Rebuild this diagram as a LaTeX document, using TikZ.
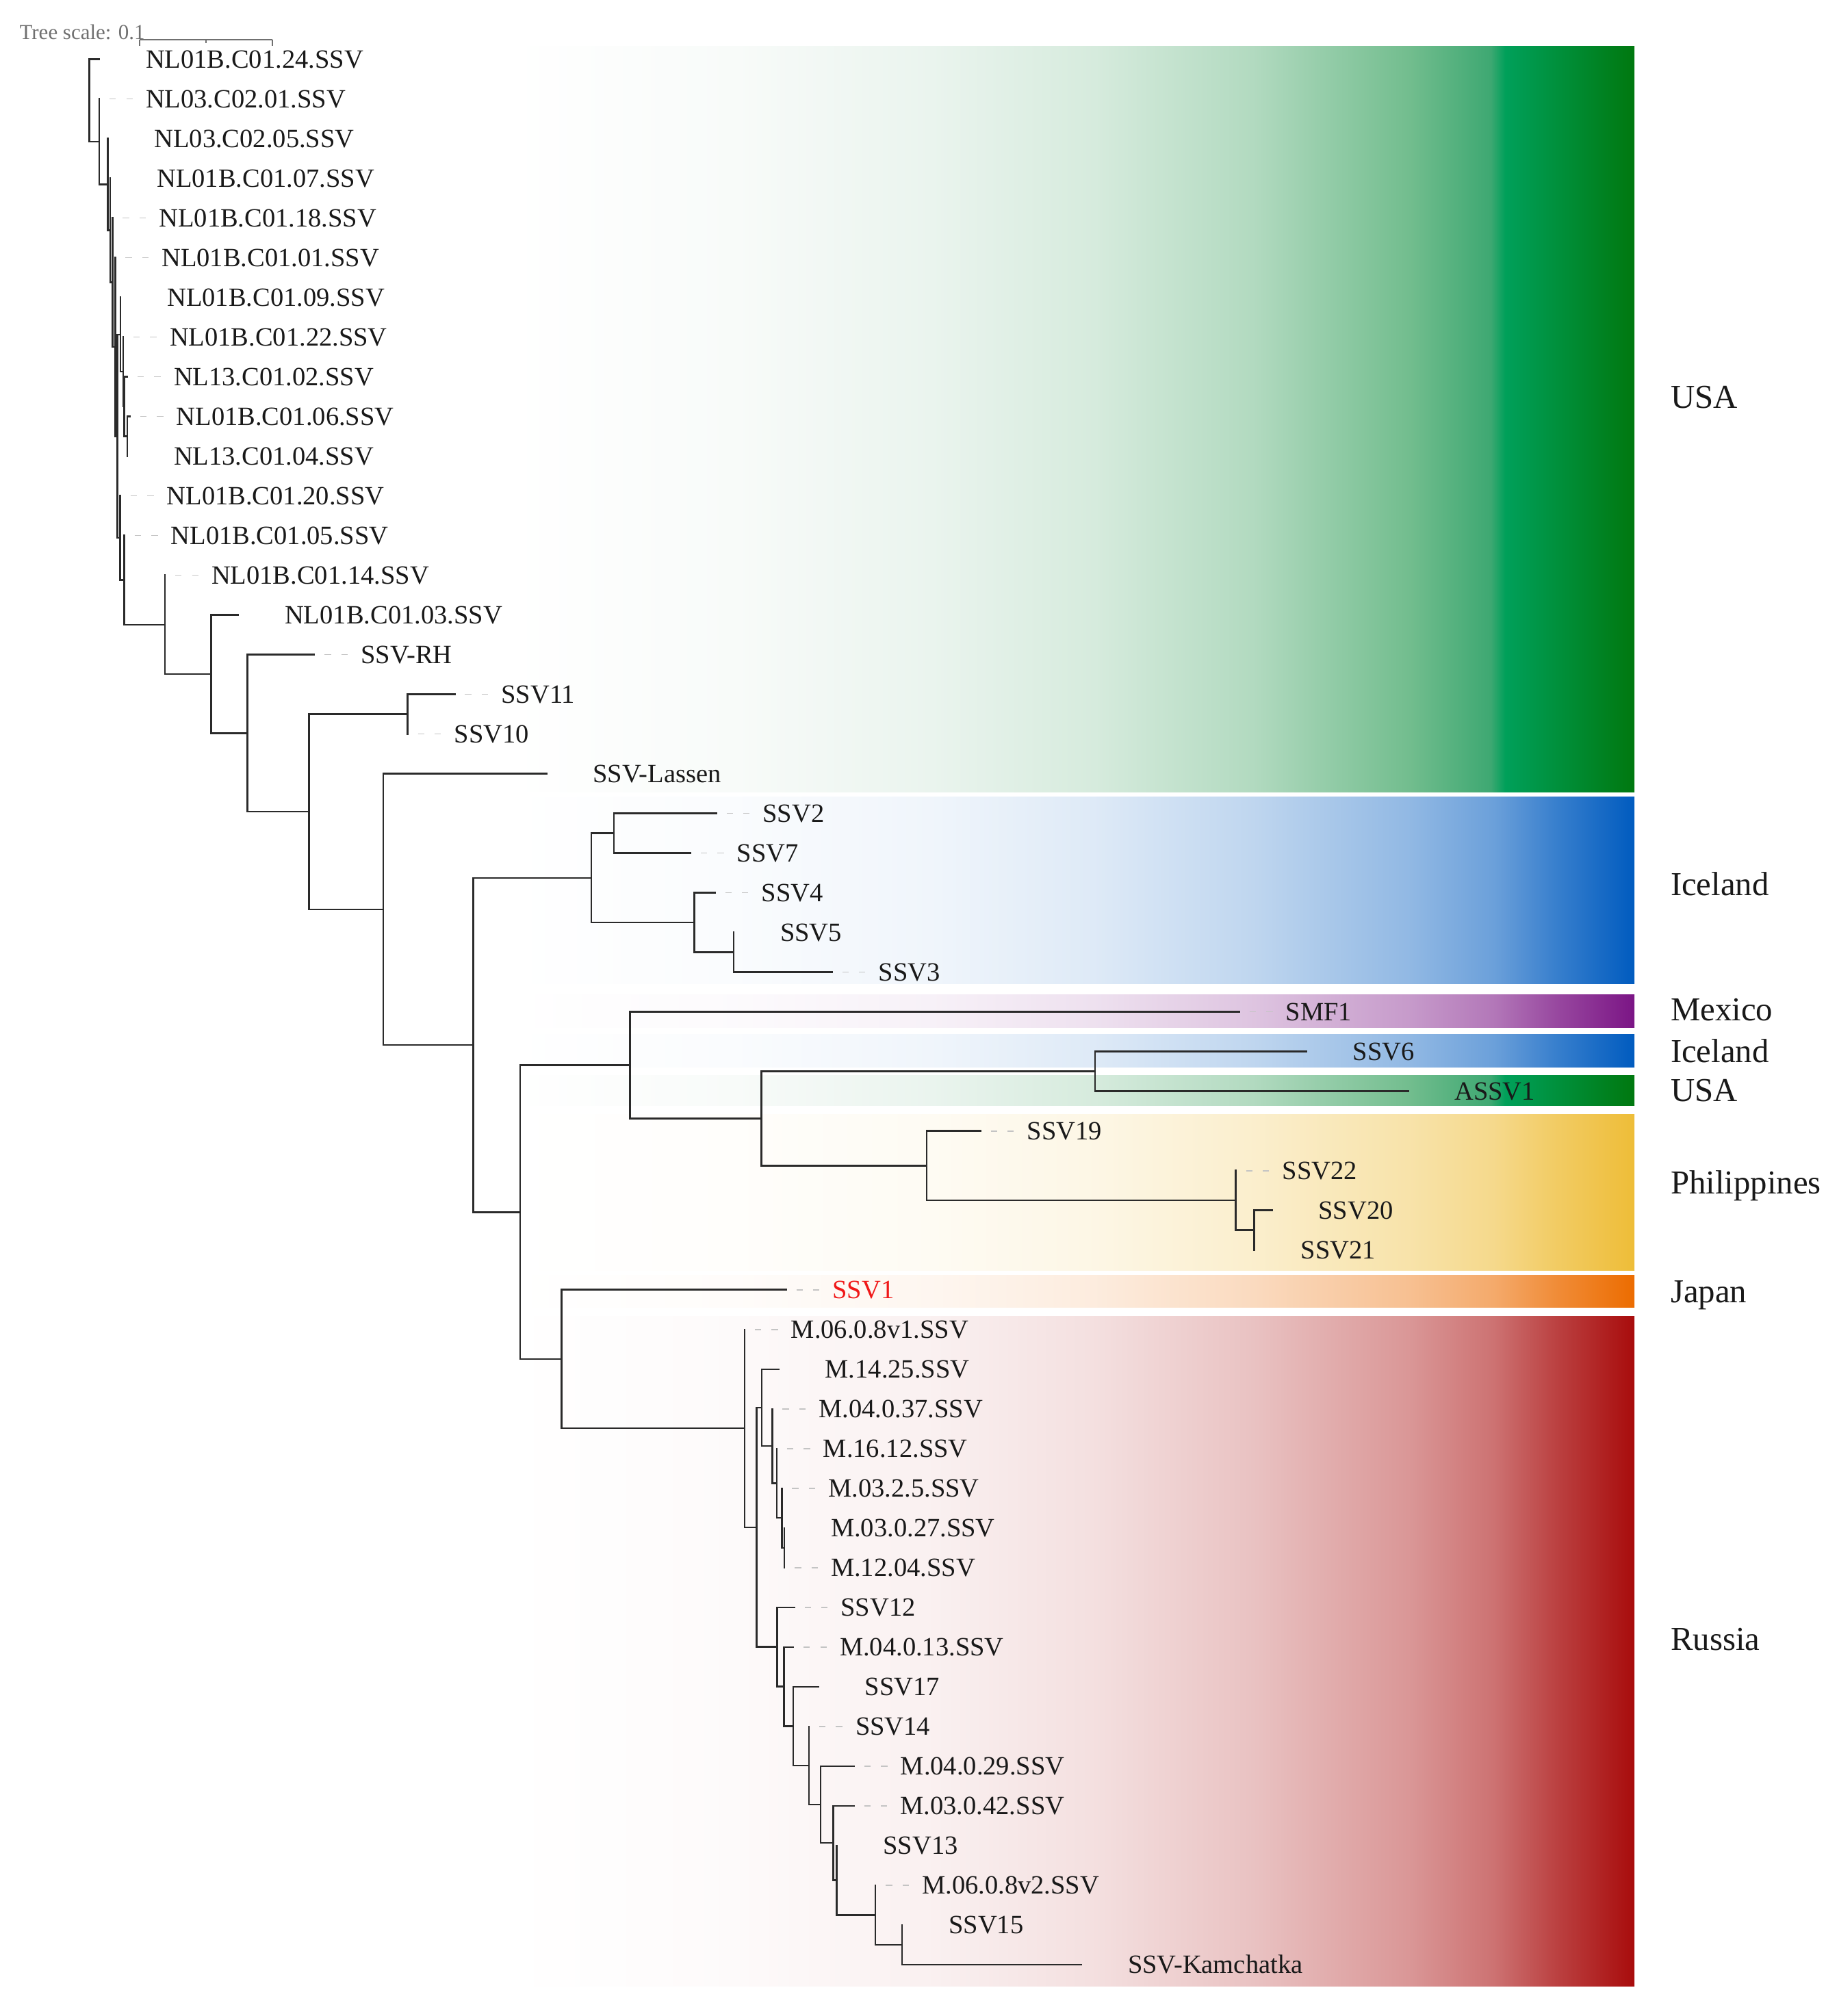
\documentclass[tikz,border=0pt]{standalone}
\usepackage{fontspec}
\setmainfont{Liberation Serif}
\usetikzlibrary{calc}
\definecolor{cBlue}{HTML}{005BBF}
\definecolor{cPurple}{HTML}{7B1585}
\definecolor{cYellow}{HTML}{EEBD38}
\definecolor{cOrange}{HTML}{EC6C00}
\definecolor{cRed}{HTML}{A80C0C}
\definecolor{gS1}{HTML}{F8FBF9}
\definecolor{gS2}{HTML}{EAF4EE}
\definecolor{gS3}{HTML}{D6EBDD}
\definecolor{gS4}{HTML}{B2DAC0}
\definecolor{gS5}{HTML}{72BD8E}
\definecolor{gS6}{HTML}{3EA872}
\definecolor{gS7}{HTML}{00A05A}
\definecolor{gS8}{HTML}{00780F}
\definecolor{brc}{HTML}{2A2A2A}
\definecolor{ldc}{HTML}{C4C4C4}
\definecolor{sclc}{HTML}{707070}
\definecolor{ssvred}{HTML}{F01818}
\pgfdeclarehorizontalshading{shGreen}{100bp}{color(0bp)=(white); color(25bp)=(white); color(35bp)=(gS1); color(43.75bp)=(gS2); color(51bp)=(gS3); color(58bp)=(gS4); color(65bp)=(gS5); color(68.6bp)=(gS6); color(69.25bp)=(gS7); color(75bp)=(gS8); color(100bp)=(gS8)}
\newcommand\mkshade[2]{\pgfdeclarehorizontalshading{#1}{100bp}{color(0bp)=(white); color(25bp)=(white); color(35bp)=(#2!2!white); color(43.75bp)=(#2!6!white); color(51bp)=(#2!13!white); color(58bp)=(#2!25!white); color(65bp)=(#2!43!white); color(68.75bp)=(#2!58!white); color(71.5bp)=(#2!78!white); color(75bp)=(#2); color(100bp)=(#2)}}
\mkshade{shBlue}{cBlue}
\mkshade{shPurple}{cPurple}
\mkshade{shYellow}{cYellow}
\mkshade{shOrange}{cOrange}
\mkshade{shRed}{cRed}
% leaf: #1 index, #2 tip x, #3 text, #4 extra options
\newcommand\leaf[4]{%
  \coordinate (t#1) at (#2,{46+30.875*(#1-1)});
  \node[lab,#4] (l#1) at ($(t#1)+(36,6.8)$) {#3};}
% internal node: #1 name, #2 x, #3 #4 children
\newcommand\inode[4]{%
  \path let \p1=($(#3)!0.5!(#4)$) in (#2pt,\y1) coordinate (#1);
  \draw[br] (#1) |- (#3);
  \draw[br] (#1) |- (#4);}
\begin{document}
\begin{tikzpicture}[x=1pt,y=-1pt,
  br/.style={draw=brc,line width=1.3pt,line cap=rect},
  lead/.style={draw=ldc,line width=0.9pt,dash pattern=on 5pt off 8pt},
  lab/.style={anchor=base west,inner sep=0pt,font=\fontsize{20.5}{24}\selectfont,text=black!90},
  country/.style={anchor=base west,inner sep=0pt,font=\fontsize{26}{30}\selectfont,text=black!90},
  band/.style={draw=none}]
\fill[white] (0,0) rectangle (1430,1568);
\useasboundingbox (0,0) rectangle (1430,1568);
% colour bands
\shade[band,shading=shGreen] (397,36) rectangle (1271,616);
\shade[band,shading=shBlue] (397,620) rectangle (1271,765);
\shade[band,shading=shPurple] (397,773.5) rectangle (1271,799);
\shade[band,shading=shBlue] (397,804.5) rectangle (1271,830);
\shade[band,shading=shGreen] (397,836.5) rectangle (1271,860);
\shade[band,shading=shYellow] (397,867) rectangle (1271,988);
\shade[band,shading=shOrange] (397,992) rectangle (1271,1017);
\shade[band,shading=shRed] (397,1024) rectangle (1271,1545);
% scale
\node[anchor=base west,inner sep=0pt,font=\fontsize{16.5}{20}\selectfont,text=sclc] (ts) at (15,30.5) {Tree scale: 0.1};
\coordinate (sb0) at (108.6,31);
\coordinate (sb1) at (160.2,31);
\coordinate (sb2) at (211.8,31);
\draw[sclc,line width=0.9pt] (sb0) -- (sb2);
\draw[sclc,line width=0.9pt] (sb0) -- ++(0,4.5);
\draw[sclc,line width=0.9pt] (sb1) -- ++(0,2.5);
\draw[sclc,line width=0.9pt] (sb2) -- ++(0,4.5);
% leaves
\leaf{1}{77.2}{NL01B.C01.24.SSV}{}
\leaf{2}{77.2}{NL03.C02.01.SSV}{}
\leaf{3}{83.8}{NL03.C02.05.SSV}{}
\leaf{4}{85.8}{NL01B.C01.07.SSV}{}
\leaf{5}{87.5}{NL01B.C01.18.SSV}{}
\leaf{6}{89.6}{NL01B.C01.01.SSV}{}
\leaf{7}{93.8}{NL01B.C01.09.SSV}{}
\leaf{8}{95.8}{NL01B.C01.22.SSV}{}
\leaf{9}{99}{NL13.C01.02.SSV}{}
\leaf{10}{101}{NL01B.C01.06.SSV}{}
\leaf{11}{99}{NL13.C01.04.SSV}{}
\leaf{12}{93.5}{NL01B.C01.20.SSV}{}
\leaf{13}{96.7}{NL01B.C01.05.SSV}{}
\leaf{14}{128.3}{NL01B.C01.14.SSV}{}
\leaf{15}{185.3}{NL01B.C01.03.SSV}{}
\leaf{16}{244.4}{SSV-RH}{}
\leaf{17}{353.6}{SSV11}{}
\leaf{18}{317}{SSV10}{}
\leaf{19}{425}{SSV-Lassen}{}
\leaf{20}{557}{SSV2}{}
\leaf{21}{537}{SSV7}{}
\leaf{22}{556}{SSV4}{}
\leaf{23}{570.6}{SSV5}{}
\leaf{24}{647}{SSV3}{}
\leaf{25}{963.7}{SMF1}{}
\leaf{26}{1016}{SSV6}{}
\leaf{27}{1095}{ASSV1}{}
\leaf{28}{762.5}{SSV19}{}
\leaf{29}{961}{SSV22}{}
\leaf{30}{989.1}{SSV20}{}
\leaf{31}{975.4}{SSV21}{}
\leaf{32}{611.3}{SSV1}{text=ssvred}
\leaf{33}{579}{M.06.0.8v1.SSV}{}
\leaf{34}{605.5}{M.14.25.SSV}{}
\leaf{35}{600.6}{M.04.0.37.SSV}{}
\leaf{36}{604}{M.16.12.SSV}{}
\leaf{37}{608}{M.03.2.5.SSV}{}
\leaf{38}{610}{M.03.0.27.SSV}{}
\leaf{39}{610}{M.12.04.SSV}{}
\leaf{40}{617.7}{SSV12}{}
\leaf{41}{616.9}{M.04.0.13.SSV}{}
\leaf{42}{636.4}{SSV17}{}
\leaf{43}{629.1}{SSV14}{}
\leaf{44}{664.1}{M.04.0.29.SSV}{}
\leaf{45}{664}{M.03.0.42.SSV}{}
\leaf{46}{650.7}{SSV13}{}
\leaf{47}{680.8}{M.06.0.8v2.SSV}{}
\leaf{48}{701.6}{SSV15}{}
\leaf{49}{841}{SSV-Kamchatka}{}
% leaders
\foreach \i in {2,5,6,8,9,10,12,13,14,16,17,18,20,21,22,24,25,28,29,32,33,35,36,37,39,40,41,43,44,45,47}
  \draw[lead,shorten <=8pt,shorten >=3pt] (t\i) -- (t\i -| l\i.west);
% internal nodes
\inode{T}{99}{t10}{t11}
\inode{R}{96.7}{t9}{T}
\inode{Q}{95.8}{t8}{R}
\inode{P}{93.8}{t7}{Q}
\inode{MI}{701.6}{t48}{t49}
\inode{MH}{680.8}{t47}{MI}
\inode{MG}{650.7}{t46}{MH}
\inode{MF}{647.9}{t45}{MG}
\inode{ME}{638.1}{t44}{MF}
\inode{MD}{629.1}{t43}{ME}
\inode{MC}{616.9}{t42}{MD}
\inode{MB}{609.6}{t41}{MC}
\inode{MA}{604.3}{t40}{MB}
\inode{Mz}{610}{t38}{t39}
\inode{My}{608}{t37}{Mz}
\inode{Mx}{604}{t36}{My}
\inode{Mw}{600.6}{t35}{Mx}
\inode{Mv}{592.5}{t34}{Mw}
\inode{Mu}{588.4}{Mv}{MA}
\inode{Mt}{579}{t33}{Mu}
\inode{J}{436.7}{t32}{Mt}
\inode{Ca}{975.4}{t30}{t31}
\inode{Cb}{961}{t29}{Ca}
\inode{Cc}{720.8}{t28}{Cb}
\inode{Cd}{851.6}{t26}{t27}
\inode{Ce}{592}{Cd}{Cc}
\inode{Cf}{490}{t25}{Ce}
\inode{B}{404.6}{Cf}{J}
\inode{Ia}{570.6}{t23}{t24}
\inode{Ib}{540}{t22}{Ia}
\inode{Ic}{477.4}{t20}{t21}
\inode{Id}{460}{Ic}{Ib}
\inode{A}{368}{Id}{B}
\inode{LAS}{298.2}{t19}{A}
\inode{S}{317}{t17}{t18}
\inode{Z}{240.3}{S}{LAS}
\inode{Y}{192.3}{t16}{Z}
\inode{X}{164.2}{t15}{Y}
\inode{W}{128.3}{t14}{X}
\inode{V}{96.7}{t13}{W}
\inode{U}{93.5}{t12}{V}
\inode{N7}{91.2}{P}{U}
\inode{N6}{89.6}{t6}{N7}
\inode{N5}{87.5}{t5}{N6}
\inode{N4}{85.8}{t4}{N5}
\inode{N3}{83.8}{t3}{N4}
\inode{N2}{77.2}{t2}{N3}
\inode{N1}{69.5}{t1}{N2}
% country labels
\node[country] (cUSA) at (1299,317.6) {USA};
\node[country] (cIce) at (1299,696.6) {Iceland};
\node[country] (cMex) at (1299,794.1) {Mexico};
\node[country] (cIce2) at (1299,826.2) {Iceland};
\node[country] (cUSA2) at (1299,856.6) {USA};
\node[country] (cPhi) at (1299,928.6) {Philippines};
\node[country] (cJap) at (1299,1013.1) {Japan};
\node[country] (cRus) at (1299,1283.6) {Russia};
\end{tikzpicture}
\end{document}
